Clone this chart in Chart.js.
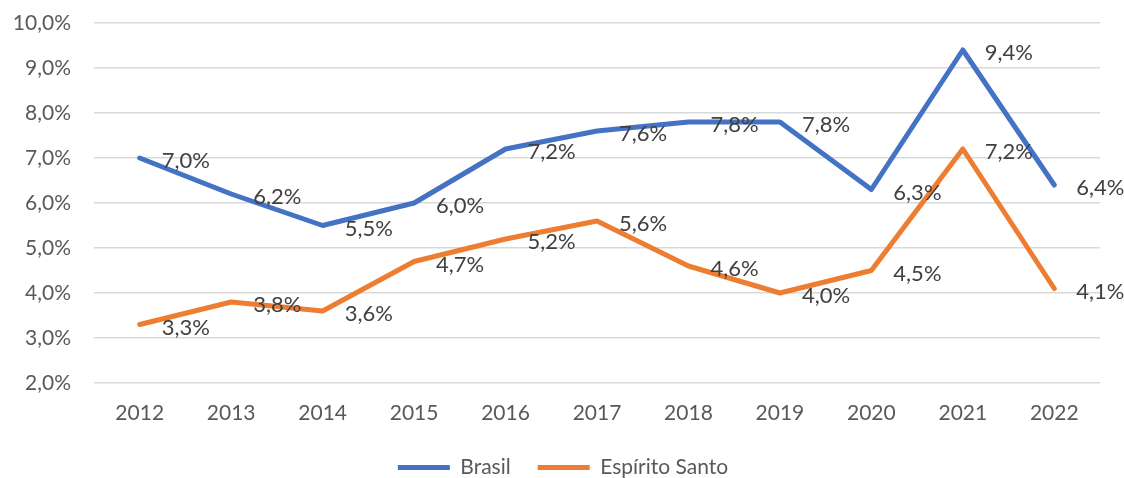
<!DOCTYPE html>
<html>
<head>
<meta charset="utf-8">
<script src="https://cdn.jsdelivr.net/npm/chart.js@4"></script>
<style>
  html, body { margin: 0; padding: 0; background: #ffffff; }
  #wrap { width: 1124px; height: 478px; }
</style>
</head>
<body>
<div id="wrap"><canvas id="chart"></canvas></div>
<script>
// data
const years = ['2012', '2013', '2014', '2015', '2016', '2017', '2018', '2019', '2020', '2021', '2022'];
const brasil = [7.0, 6.2, 5.5, 6.0, 7.2, 7.6, 7.8, 7.8, 6.3, 9.4, 6.4];
const espiritoSanto = [3.3, 3.8, 3.6, 4.7, 5.2, 5.6, 4.6, 4.0, 4.5, 7.2, 4.1];
const yTicks = [2, 3, 4, 5, 6, 7, 8, 9, 10];

const FONT = 'Lato, "Open Sans", sans-serif';
const fmt = v => v.toFixed(1).replace('.', ',') + '%';

// labels drawn to the right of each point, like Excel's "right" position
const pointLabels = {
    id: 'pointLabels',
    afterDatasetsDraw(chart) {
        const ctx = chart.ctx;
        ctx.save();
        ctx.font = '22px ' + FONT;
        ctx.fillStyle = '#404040';
        ctx.textAlign = 'left';
        ctx.textBaseline = 'middle';
        chart.data.datasets.forEach((ds, i) => {
            chart.getDatasetMeta(i).data.forEach((pt, j) => {
                ctx.fillText(fmt(ds.data[j]), pt.x + 22, pt.y + 3);
            });
        });
        ctx.restore();
    }
};

// chart.js centres the legend row including the trailing item padding, nudge it back
const legendShift = {
    id: 'legendShift',
    afterLayout(chart) {
        if (!chart.legend) return;
        chart.legend.left += 13;
        chart.legend.right += 13;
    }
};

new Chart(document.getElementById('chart'), {
    type: 'line',
    data: {
        labels: years,
        datasets: [
            { label: 'Brasil', data: brasil, borderColor: '#4472C4', backgroundColor: '#4472C4' },
            { label: 'Espírito Santo', data: espiritoSanto, borderColor: '#ED7D31', backgroundColor: '#ED7D31' }
        ]
    },
    options: {
        responsive: true,
        maintainAspectRatio: false,
        animation: false,
        layout: { padding: { top: 0, right: 24, bottom: 0, left: 0 } },
        elements: {
            line: { borderWidth: 5, tension: 0, borderCapStyle: 'round', borderJoinStyle: 'round' },
            point: { radius: 0, hoverRadius: 0 }
        },
        scales: {
            x: {
                offset: true,
                grid: { display: false },
                border: { display: false },
                ticks: { color: '#595959', font: { family: FONT, size: 21 }, padding: 10 },
                afterFit: s => { s.height = 47; }
            },
            y: {
                min: 2,
                max: 10,
                afterBuildTicks: s => { s.ticks = yTicks.map(v => ({ value: v })); },
                grid: { color: '#d9d9d9', lineWidth: 1.5, drawTicks: false },
                border: { display: false },
                ticks: { color: '#595959', font: { family: FONT, size: 21 }, padding: 23, callback: v => fmt(v) },
                afterFit: s => {
                    s.width = 94;
                    s.paddingTop = 23;
                    s.paddingBottom = 0;
                }
            }
        },
        plugins: {
            tooltip: { enabled: false },
            legend: {
                position: 'bottom',
                maxHeight: 48,
                labels: {
                    color: '#595959',
                    font: { family: FONT, size: 21 },
                    boxWidth: 52,
                    boxHeight: 5,
                    padding: 27,
                    useBorderRadius: true,
                    borderRadius: 2.5,
                    generateLabels: chart => chart.data.datasets.map((ds, i) => ({
                        text: ds.label,
                        fillStyle: ds.borderColor,
                        strokeStyle: ds.borderColor,
                        lineWidth: 0,
                        fontColor: '#595959',
                        hidden: false,
                        datasetIndex: i
                    }))
                }
            }
        }
    },
    plugins: [pointLabels, legendShift]
});
</script>
</body>
</html>
